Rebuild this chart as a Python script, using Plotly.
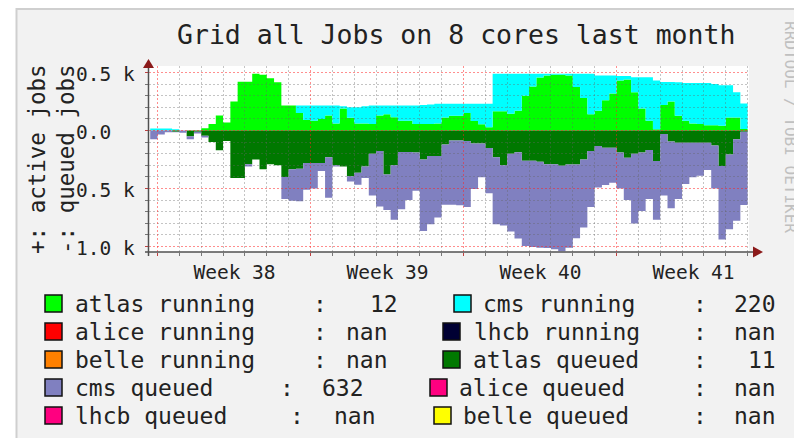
import numpy as np
import plotly.graph_objects as go

# ---------------- data: 8-hour samples, x in days relative to start of Week 38 ----------------
start_day = -1 / 3
step_days = 1 / 3

atlas_running = [0, 0, 0, 0, 0, 0, 0, 20, 55, 130,
                 70, 250, 420, 420, 490, 480, 450, 415, 215, 215,
                 150, 90, 85, 100, 130, 60, 190, 110, 60, 60,
                 55, 130, 140, 115, 85, 85, 55, 55, 55, 60,
                 113, 128, 128, 150, 82, 53, 29, 167, 167, 144,
                 170, 300, 380, 456, 475, 480, 480, 475, 375, 280,
                 140, 170, 260, 320, 430, 440, 330, 190, 84, 10,
                 220, 250, 128, 84, 60, 55, 46, 46, 40, 113,
                 113, 12]
cms_running = [17, 17, 17, 10, 0, 0, 0, 0, 0, 0,
               0, 0, 0, 0, 0, 0, 0, 0, 0, 0,
               65, 125, 130, 115, 85, 155, 20, 90, 140, 150,
               160, 85, 75, 100, 130, 130, 160, 165, 170, 170,
               117, 102, 102, 80, 148, 177, 201, 323, 323, 346,
               320, 190, 110, 34, 15, 10, 10, 15, 115, 210,
               350, 305, 215, 155, 40, 30, 130, 270, 376, 420,
               198, 168, 287, 326, 350, 355, 364, 354, 350, 277,
               217, 220]
atlas_queued = [0, 0, 0, 10, 0, 50, 10, 45, 100, 170,
                90, 410, 410, 290, 250, 335, 290, 300, 400, 335,
                330, 280, 280, 280, 230, 300, 310, 395, 365, 310,
                200, 177, 380, 300, 185, 185, 190, 250, 220, 220,
                120, 87, 87, 90, 113, 113, 150, 231, 300, 200,
                188, 260, 260, 270, 290, 290, 303, 293, 293, 250,
                177, 133, 148, 148, 190, 235, 200, 190, 168, 264,
                30, 95, 105, 105, 105, 105, 105, 130, 307, 206,
                75, 11]
cms_queued = [75, 35, 15, 5, 20, 25, 15, 15, 0, 0,
              0, 0, 0, 20, 0, 0, 0, 0, 190, 270,
              280, 230, 220, 70, 350, 10, 0, 45, 102, 100,
              360, 478, 305, 470, 493, 415, 330, 616, 588, 530,
              520, 553, 558, 570, 392, 291, 390, 577, 520, 670,
              742, 736, 745, 740, 722, 734, 737, 717, 636, 587,
              483, 358, 322, 302, 310, 365, 602, 503, 422, 506,
              530, 575, 486, 357, 299, 285, 235, 370, 633, 645,
              704, 632]

week_starts = [0, 7, 14, 21]
week_labels = ["Week 38", "Week 39", "Week 40", "Week 41"]
day_ticks = [d for d in range(0, 28) if d % 7 != 0]
y_tick_vals = [-1000, -500, 0, 500]
y_tick_text = ["1.0 k", "0.5 k", "0.0", "0.5 k"]
y_minor_vals = [v for v in range(-1000, 600, 100) if v % 500 != 0]

title_text = "Grid all Jobs on 8 cores last month"

colors = {
    "atlas running": "#00FF00", "cms running": "#00FFFF",
    "alice running": "#FF0000", "lhcb running": "#000033",
    "belle running": "#FF8000", "atlas queued": "#007800",
    "cms queued": "#8080C0", "alice queued": "#FF0080",
    "lhcb queued": "#FF0080", "belle queued": "#FFFF00",
}
last = {
    "atlas running": str(atlas_running[-1]), "cms running": str(cms_running[-1]),
    "atlas queued": str(atlas_queued[-1]), "cms queued": str(cms_queued[-1]),
}

# ---------------- geometry (page pixels -> paper); page body has an 8px margin ----------------
W_FIG, H_FIG = 802, 438
OFF = 8
L, T, PW, PH = 149, 66, 600, 186
PX_PER_DAY = 153 / 7
X0 = -8.5 / PX_PER_DAY
X_RANGE = [X0, X0 + PW / PX_PER_DAY]
PX_PER_UNIT = 0.116
ZERO_Y = 130.5
Y_RANGE = [-(T + PH - ZERO_Y) / PX_PER_UNIT, (ZERO_Y - T) / PX_PER_UNIT]


def px(x):
    return (x - L) / PW


def py(y):
    return (T + PH - y) / PH


n = len(atlas_running)
xs = start_day + step_days * np.arange(n + 1)


def ext(v):
    return list(v) + [v[-1]]


fig = go.Figure()
for name, vals, grp, sign in [
    ("atlas running", atlas_running, "active", 1),
    ("cms running", cms_running, "active", 1),
    ("atlas queued", atlas_queued, "queued", -1),
    ("cms queued", cms_queued, "queued", -1),
]:
    fig.add_trace(go.Scatter(
        x=xs, y=[sign * v for v in ext(vals)], name=name, stackgroup=grp,
        mode="lines", line=dict(width=0, shape="hv", color=colors[name]),
        fillcolor=colors[name], hoverinfo="skip", showlegend=False,
    ))
# empty trace on a second, identical subplot whose grid is drawn above the areas (as RRDtool does)
fig.add_trace(go.Scatter(x=[], y=[], xaxis="x2", yaxis="y2", showlegend=False, hoverinfo="skip"))

MONO = "DejaVu Sans Mono"
major_grid = "rgba(255,30,30,0.5)"
minor_grid = "rgba(100,100,100,0.38)"
GRID_DASH = "2px,2px"

shapes = [
    # white outer margin and frame
    dict(type="rect", xref="paper", yref="paper", x0=px(0), x1=px(16), y0=py(0), y1=py(H_FIG + 20),
         fillcolor="white", line=dict(width=0), layer="below"),
    dict(type="line", xref="paper", yref="paper", x0=px(16.5), x1=px(16.5), y0=py(8), y1=py(H_FIG + 20),
         line=dict(color="#cfcfcf", width=2), layer="below"),
    dict(type="line", xref="paper", yref="paper", x0=px(16), x1=px(W_FIG + 20), y0=py(9), y1=py(9),
         line=dict(color="#cfcfcf", width=2), layer="below"),
    # white canvas of the plotting area
    dict(type="rect", xref="paper", yref="paper", x0=0, x1=1, y0=0, y1=1,
         fillcolor="white", line=dict(width=0), layer="below"),
    # axis lines
    dict(type="line", xref="paper", yref="paper", x0=px(148.5), x1=px(148.5), y0=py(256), y1=py(66),
         line=dict(color="#505050", width=1.5)),
    dict(type="line", xref="paper", yref="paper", x0=px(145), x1=px(755), y0=py(252), y1=py(252),
         line=dict(color="#505050", width=1.5)),
    # arrows
    dict(type="path", xref="paper", yref="paper",
         path=f"M {px(143)} {py(68)} L {px(154)} {py(68)} L {px(148.5)} {py(59)} Z",
         fillcolor="#8b1a1a", line=dict(width=0)),
    dict(type="path", xref="paper", yref="paper",
         path=f"M {px(753)} {py(246.5)} L {px(753)} {py(257.5)} L {px(763)} {py(252)} Z",
         fillcolor="#8b1a1a", line=dict(width=0)),
]

annotations = [
    dict(text=title_text, xref="paper", yref="paper", x=px(456), y=py(35), showarrow=False,
         font=dict(family=MONO, size=26.5, color="#222222"), xanchor="center", yanchor="middle"),
    dict(text="+: active jobs<br>-: queued jobs", xref="paper", yref="paper", x=px(51), y=py(159),
         showarrow=False, textangle=-90, font=dict(family=MONO, size=22.5, color="#222222"),
         xanchor="center", yanchor="middle"),
    dict(text="RRDTOOL / TOBI OETIKER", xref="paper", yref="paper", x=px(791), y=py(127),
         showarrow=False, textangle=90, font=dict(family=MONO, size=16, color="#c0c0c0"),
         xanchor="center", yanchor="middle"),
]

TICKFONT = dict(family=MONO, size=19.5, color="#222222")
# y tick labels are left-aligned in RRDtool: place them on the y scale
for v, t in zip(y_tick_vals, y_tick_text):
    annotations.append(dict(text=t, xref="paper", yref="y", x=px(74), y=v, yshift=-1.5,
                            showarrow=False, xanchor="left", yanchor="middle", font=TICKFONT))

# legend layout: (name, box_left, text_left, colon_x, value_right, row)
legend_left = [
    ("atlas running", 45, 76, 320, 397, 0),
    ("alice running", 45, 76, 320, 387, 1),
    ("belle running", 45, 76, 320, 387, 2),
    ("cms queued", 45, 76, 287, 363, 3),
    ("lhcb queued", 45, 76, 297, 375, 4),
]
legend_right = [
    ("cms running", 454, 484, 700, 775, 0),
    ("lhcb running", 443, 475, 700, 775, 1),
    ("atlas queued", 443, 474, 700, 775, 2),
    ("alice queued", 430, 460, 700, 775, 3),
    ("belle queued", 434, 464, 700, 775, 4),
]
LF = dict(family=MONO, size=23, color="#222222")
for name, bx, tx, cx, vr, row in legend_left + legend_right:
    yc = 303.5 + 28 * row
    shapes.append(dict(type="rect", xref="paper", yref="paper", x0=px(bx), x1=px(bx + 17),
                       y0=py(yc - 8.5), y1=py(yc + 8.5), fillcolor=colors[name],
                       line=dict(color="#111111", width=1.5)))
    annotations.append(dict(text=name, xref="paper", yref="paper", x=px(tx - 3), y=py(yc),
                            showarrow=False, xanchor="left", yanchor="middle", font=LF))
    annotations.append(dict(text=":", xref="paper", yref="paper", x=px(cx), y=py(yc),
                            showarrow=False, xanchor="center", yanchor="middle", font=LF))
    annotations.append(dict(text=last.get(name, "nan"), xref="paper", yref="paper", x=px(vr + 3), y=py(yc),
                            showarrow=False, xanchor="right", yanchor="middle", font=LF))

ml, mt = L - OFF, T - OFF
grid_x = dict(range=X_RANGE, tickmode="array", tickvals=week_starts, showticklabels=False, ticks="",
              showgrid=True, gridcolor=major_grid, griddash=GRID_DASH, gridwidth=1,
              minor=dict(tickmode="array", tickvals=day_ticks, showgrid=True,
                         gridcolor=minor_grid, griddash=GRID_DASH, gridwidth=1),
              showline=False, zeroline=False, fixedrange=True, domain=[0, 1], anchor="y2")
grid_y = dict(range=Y_RANGE, tickmode="array", tickvals=y_tick_vals, showticklabels=False, ticks="",
              showgrid=True, gridcolor=major_grid, griddash=GRID_DASH, gridwidth=1,
              minor=dict(tickmode="array", tickvals=y_minor_vals, showgrid=True,
                         gridcolor=minor_grid, griddash=GRID_DASH, gridwidth=1),
              showline=False, zeroline=False, fixedrange=True, domain=[0, 1], anchor="x2")

fig.update_layout(
    width=W_FIG, height=H_FIG, autosize=False,
    margin=dict(l=ml, r=W_FIG - ml - PW, t=mt, b=H_FIG - mt - PH, pad=0),
    paper_bgcolor="#f2f2f2", plot_bgcolor="rgba(0,0,0,0)",
    showlegend=False, shapes=shapes, annotations=annotations,
    xaxis=dict(
        range=X_RANGE, tickmode="array", tickvals=week_starts, ticktext=week_labels,
        ticklabelshift=77, ticklabelstandoff=0,
        showgrid=False, ticks="outside", ticklen=3, tickcolor="#c04040",
        minor=dict(tickmode="array", tickvals=day_ticks, showgrid=False, ticks="outside",
                   ticklen=3, tickcolor="#777777"),
        showline=False, zeroline=False, fixedrange=True, domain=[0, 1], anchor="y",
        tickfont=TICKFONT,
    ),
    yaxis=dict(
        range=Y_RANGE, tickmode="array", tickvals=y_tick_vals, showticklabels=False,
        showgrid=False, ticks="outside", ticklen=3, tickcolor="#c04040",
        minor=dict(tickmode="array", tickvals=y_minor_vals, showgrid=False, ticks="outside",
                   ticklen=3, tickcolor="#777777"),
        showline=False, zeroline=False, fixedrange=True, domain=[0, 1], anchor="x",
    ),
    xaxis2=grid_x,
    yaxis2=grid_y,
)

fig.write_html("out.html", include_plotlyjs=True, config=dict(displayModeBar=False, staticPlot=True))
